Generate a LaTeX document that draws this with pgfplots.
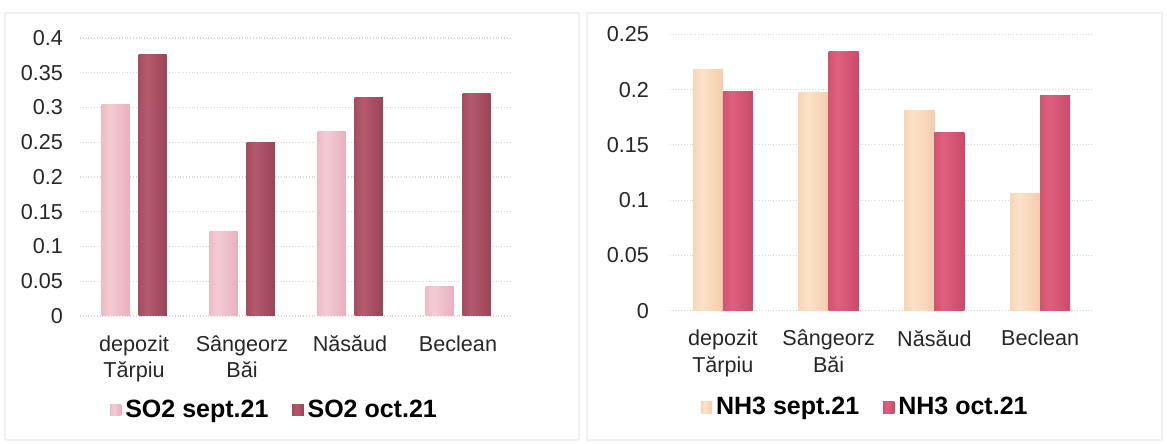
\documentclass[border=0pt]{standalone}
\usepackage{pgfplots}
\pgfplotsset{compat=1.18}
\usepackage{fontspec}
\setmainfont{Liberation Sans}
\definecolor{soAl}{RGB}{244,204,212}
\definecolor{soAm}{RGB}{230,172,186}
\definecolor{soAd}{RGB}{180,115,130}
\definecolor{soBl}{RGB}{180,90,110}
\definecolor{soBm}{RGB}{152,64,84}
\definecolor{soBd}{RGB}{90,34,48}
\definecolor{nhAl}{RGB}{252,226,200}
\definecolor{nhAm}{RGB}{242,202,170}
\definecolor{nhAd}{RGB}{180,138,115}
\definecolor{nhBl}{RGB}{222,96,126}
\definecolor{nhBm}{RGB}{200,70,102}
\definecolor{nhBd}{RGB}{120,36,56}
\pgfdeclarehorizontalshading{shSoA}{100bp}{color(0bp)=(soAd); color(12bp)=(soAm); color(40bp)=(soAl); color(80bp)=(soAm); color(100bp)=(soAd)}
\pgfdeclarehorizontalshading{shSoB}{100bp}{color(0bp)=(soBd); color(12bp)=(soBm); color(40bp)=(soBl); color(80bp)=(soBm); color(100bp)=(soBd)}
\pgfdeclarehorizontalshading{shNhA}{100bp}{color(0bp)=(nhAd); color(12bp)=(nhAm); color(40bp)=(nhAl); color(80bp)=(nhAm); color(100bp)=(nhAd)}
\pgfdeclarehorizontalshading{shNhB}{100bp}{color(0bp)=(nhBd); color(12bp)=(nhBm); color(40bp)=(nhBl); color(80bp)=(nhBm); color(100bp)=(nhBd)}
\pgfplotsset{
  common/.style={
    scale only axis,
    anchor=south west,
    xmin=-0.5, xmax=3.5, ymin=0,
    ybar,
    axis line style={draw=none},
    tick style={draw=none},
    ymajorgrids,
    grid style={gray!30, densely dotted, line width=0.6bp},
    xtick={0,1,2,3},
    xticklabels={{depozit\\Tărpiu},{Sângeorz\\Băi},{Năsăud},{Beclean}},
    xticklabel style={align=center, font=\fontsize{10.8bp}{13.2bp}\selectfont, yshift=-2bp, color=black!85},
    yticklabel style={font=\fontsize{10.8bp}{13.5bp}\selectfont, color=black!85},
    /pgf/number format/assume math mode=true,
    /pgf/number format/.cd, fixed, precision=2,
  },
  legstyle/.style={
    legend columns=2,
    legend style={draw=none, fill=none, font=\fontsize{12.5bp}{14bp}\selectfont\bfseries, anchor=west,
      /tikz/every even column/.append style={column sep=10bp}},
    legend image code/.code={\path[##1, draw=none] (0bp,-2.8bp) rectangle (5.6bp,2.8bp);},
  },
  sA/.style={bar shift=-9.25bp, draw=none, fill=soAm, shading=shSoA},
  sB/.style={bar shift=9.25bp, draw=none, fill=soBm, shading=shSoB},
  nA/.style={bar shift=-7.5bp, draw=none, fill=nhAm, shading=shNhA},
  nB/.style={bar shift=7.5bp, draw=none, fill=nhBm, shading=shNhB},
}
\begin{document}
\begin{tikzpicture}
\path[use as bounding box] (0,0) rectangle (583.5bp,222bp);
\draw[gray!12, line width=0.6bp] (2.5bp,2bp) rectangle (289.5bp,215.5bp);
\draw[gray!12, line width=0.6bp] (293.5bp,2bp) rectangle (581bp,215.5bp);
\begin{axis}[common, legstyle,
  at={(40bp,64bp)}, width=216bp, height=139bp,
  ymax=0.4, ytick={0,0.05,0.1,0.15,0.2,0.25,0.3,0.35,0.4},
  bar width=14bp,
  yticklabel style={xshift=-5bp},
  legend style={at={(0.055,-0.338)}},
]
\addplot[sA] coordinates {(0,0.305)};
\addplot[sB] coordinates {(0,0.376)};
\addplot[sA, forget plot] coordinates {(1,0.121)};
\addplot[sA, forget plot] coordinates {(2,0.265)};
\addplot[sA, forget plot] coordinates {(3,0.042)};
\addplot[sB, forget plot] coordinates {(1,0.25)};
\addplot[sB, forget plot] coordinates {(2,0.315)};
\addplot[sB, forget plot] coordinates {(3,0.32)};
\legend{SO2 sept.21, SO2 oct.21}
\end{axis}
\begin{axis}[common, legstyle,
  at={(335bp,66.65bp)}, width=211.5bp, height=138.2bp,
  ymax=0.25, ytick={0,0.05,0.1,0.15,0.2,0.25},
  bar width=15bp,
  yticklabel style={xshift=-7bp},
  legend style={at={(0.058,-0.35)}},
]
\addplot[nA] coordinates {(0,0.218)};
\addplot[nB] coordinates {(0,0.198)};
\addplot[nA, forget plot] coordinates {(1,0.197)};
\addplot[nA, forget plot] coordinates {(2,0.181)};
\addplot[nA, forget plot] coordinates {(3,0.106)};
\addplot[nB, forget plot] coordinates {(1,0.234)};
\addplot[nB, forget plot] coordinates {(2,0.161)};
\addplot[nB, forget plot] coordinates {(3,0.195)};
\legend{NH3 sept.21, NH3 oct.21}
\end{axis}
\end{tikzpicture}
\end{document}
